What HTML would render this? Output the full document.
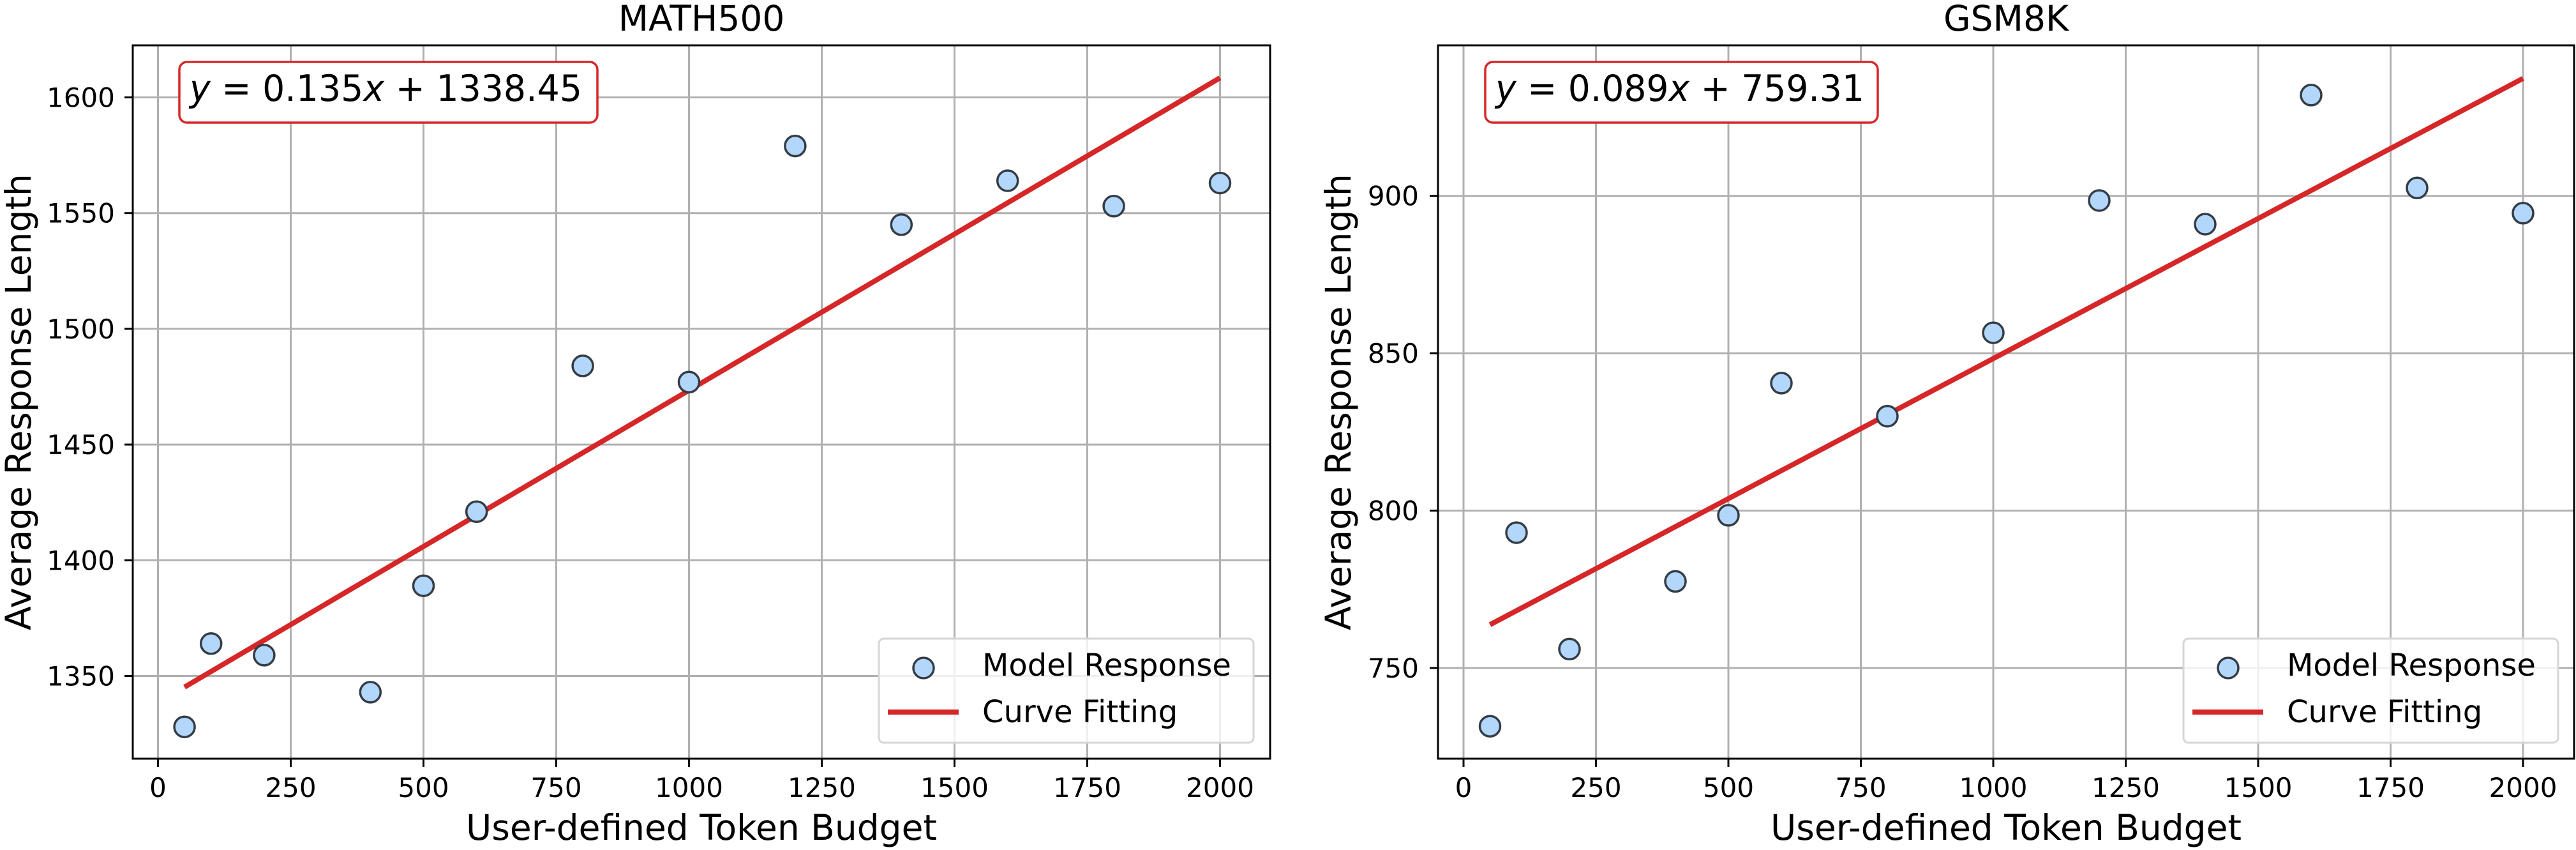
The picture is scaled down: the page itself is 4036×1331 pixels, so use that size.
<!DOCTYPE html>
<html><head><meta charset="utf-8"><style>
html,body{margin:0;padding:0;background:#fff;}
svg{display:block;}
text{font-family:"DejaVu Sans","Liberation Sans",sans-serif;fill:#000;}
</style></head><body>
<svg width="4036" height="1331" viewBox="0 0 4036 1331" xmlns="http://www.w3.org/2000/svg">
<defs>
<g id="xt">
</g>
</defs>

<!-- ============ LEFT PANEL ============ -->
<g>
<!-- grid -->
<g stroke="#b0b0b0" stroke-width="3">
<line x1="247.5" y1="71" x2="247.5" y2="1188"/><line x1="455.5" y1="71" x2="455.5" y2="1188"/>
<line x1="663.5" y1="71" x2="663.5" y2="1188"/><line x1="871.5" y1="71" x2="871.5" y2="1188"/>
<line x1="1079.5" y1="71" x2="1079.5" y2="1188"/><line x1="1287.5" y1="71" x2="1287.5" y2="1188"/>
<line x1="1495.5" y1="71" x2="1495.5" y2="1188"/><line x1="1703.5" y1="71" x2="1703.5" y2="1188"/>
<line x1="1911.5" y1="71" x2="1911.5" y2="1188"/>
<line x1="208" y1="1058.5" x2="1990" y2="1058.5"/><line x1="208" y1="877.3" x2="1990" y2="877.3"/>
<line x1="208" y1="696.1" x2="1990" y2="696.1"/><line x1="208" y1="514.9" x2="1990" y2="514.9"/>
<line x1="208" y1="333.7" x2="1990" y2="333.7"/><line x1="208" y1="152.5" x2="1990" y2="152.5"/>
</g>
<!-- fit line -->
<line x1="289.1" y1="1075.9" x2="1911.5" y2="121.9" stroke="#d62728" stroke-width="8"/>
<!-- points -->
<g fill="#b3d7fb" stroke="#343c45" stroke-width="3.5">
<circle cx="289.1" cy="1138.2" r="16"/><circle cx="330.7" cy="1007.8" r="16"/>
<circle cx="413.9" cy="1025.9" r="16"/><circle cx="580.3" cy="1083.9" r="16"/>
<circle cx="663.5" cy="917.2" r="16"/><circle cx="746.7" cy="801.2" r="16"/>
<circle cx="913.1" cy="572.9" r="16"/><circle cx="1079.5" cy="598.3" r="16"/>
<circle cx="1245.9" cy="228.6" r="16"/><circle cx="1412.3" cy="351.8" r="16"/>
<circle cx="1578.7" cy="283.0" r="16"/><circle cx="1745.1" cy="322.8" r="16"/>
<circle cx="1911.5" cy="286.6" r="16"/>
</g>
<!-- frame -->
<rect x="208" y="71" width="1782" height="1117" fill="none" stroke="#000" stroke-width="3"/>
<!-- ticks -->
<g stroke="#000" stroke-width="3">
<line x1="247.5" y1="1188" x2="247.5" y2="1201"/><line x1="455.5" y1="1188" x2="455.5" y2="1201"/>
<line x1="663.5" y1="1188" x2="663.5" y2="1201"/><line x1="871.5" y1="1188" x2="871.5" y2="1201"/>
<line x1="1079.5" y1="1188" x2="1079.5" y2="1201"/><line x1="1287.5" y1="1188" x2="1287.5" y2="1201"/>
<line x1="1495.5" y1="1188" x2="1495.5" y2="1201"/><line x1="1703.5" y1="1188" x2="1703.5" y2="1201"/>
<line x1="1911.5" y1="1188" x2="1911.5" y2="1201"/>
<line x1="195" y1="1058.5" x2="208" y2="1058.5"/><line x1="195" y1="877.3" x2="208" y2="877.3"/>
<line x1="195" y1="696.1" x2="208" y2="696.1"/><line x1="195" y1="514.9" x2="208" y2="514.9"/>
<line x1="195" y1="333.7" x2="208" y2="333.7"/><line x1="195" y1="152.5" x2="208" y2="152.5"/>
</g>
<g font-size="42" text-anchor="middle">
<text x="247.5" y="1248">0</text><text x="455.5" y="1248">250</text><text x="663.5" y="1248">500</text>
<text x="871.5" y="1248">750</text><text x="1079.5" y="1248">1000</text><text x="1287.5" y="1248">1250</text>
<text x="1495.5" y="1248">1500</text><text x="1703.5" y="1248">1750</text><text x="1911.5" y="1248">2000</text>
</g>
<g font-size="42" text-anchor="end">
<text x="180" y="1073.5">1350</text><text x="180" y="892.3">1400</text><text x="180" y="711.1">1450</text>
<text x="180" y="529.9">1500</text><text x="180" y="348.7">1550</text><text x="180" y="167.5">1600</text>
</g>
<text x="1099" y="48" font-size="55" text-anchor="middle">MATH500</text>
<text x="1099" y="1315" font-size="55" text-anchor="middle">User-defined Token Budget</text>
<text transform="translate(48,629.5) rotate(-90)" font-size="55" text-anchor="middle">Average Response Length</text>
<!-- equation -->
<rect x="281" y="97" width="655" height="95" rx="12" fill="#fff" stroke="#d62728" stroke-width="3.5"/>
<text x="297" y="158" font-size="57" textLength="615" lengthAdjust="spacingAndGlyphs"><tspan font-style="italic">y</tspan> = 0.135<tspan font-style="italic">x</tspan> + 1338.45</text>
<!-- legend -->
<rect x="1377" y="1000" width="587" height="163" rx="8" fill="#fff" fill-opacity="0.8" stroke="#d6d6d6" stroke-width="3"/>
<circle cx="1447" cy="1046" r="16" fill="#b3d7fb" stroke="#343c45" stroke-width="3.5"/>
<line x1="1391" y1="1115" x2="1502" y2="1115" stroke="#d62728" stroke-width="8"/>
<text x="1539" y="1058" font-size="48">Model Response</text>
<text x="1539" y="1131" font-size="48">Curve Fitting</text>
</g>

<!-- ============ RIGHT PANEL ============ -->
<g>
<g stroke="#b0b0b0" stroke-width="3">
<line x1="2293" y1="71" x2="2293" y2="1188"/><line x1="2500.5" y1="71" x2="2500.5" y2="1188"/>
<line x1="2708" y1="71" x2="2708" y2="1188"/><line x1="2915.5" y1="71" x2="2915.5" y2="1188"/>
<line x1="3123" y1="71" x2="3123" y2="1188"/><line x1="3330.5" y1="71" x2="3330.5" y2="1188"/>
<line x1="3538" y1="71" x2="3538" y2="1188"/><line x1="3745.5" y1="71" x2="3745.5" y2="1188"/>
<line x1="3953" y1="71" x2="3953" y2="1188"/>
<line x1="2253" y1="1046" x2="4033" y2="1046"/><line x1="2253" y1="799.6" x2="4033" y2="799.6"/>
<line x1="2253" y1="553.1" x2="4033" y2="553.1"/><line x1="2253" y1="306.7" x2="4033" y2="306.7"/>
</g>
<line x1="2334.5" y1="978.2" x2="3953" y2="122.8" stroke="#d62728" stroke-width="8"/>
<g fill="#b3d7fb" stroke="#343c45" stroke-width="3.5">
<circle cx="2334.5" cy="1137.2" r="16"/><circle cx="2376" cy="834.1" r="16"/>
<circle cx="2459" cy="1016.4" r="16"/><circle cx="2625" cy="910.4" r="16"/>
<circle cx="2708" cy="806.9" r="16"/><circle cx="2791" cy="599.9" r="16"/>
<circle cx="2957" cy="651.7" r="16"/><circle cx="3123" cy="521.1" r="16"/>
<circle cx="3289" cy="314.0" r="16"/><circle cx="3455" cy="351.0" r="16"/>
<circle cx="3621" cy="148.9" r="16"/><circle cx="3787" cy="294.3" r="16"/>
<circle cx="3953" cy="333.8" r="16"/>
</g>
<rect x="2253" y="71" width="1780" height="1117" fill="none" stroke="#000" stroke-width="3"/>
<g stroke="#000" stroke-width="3">
<line x1="2293" y1="1188" x2="2293" y2="1201"/><line x1="2500.5" y1="1188" x2="2500.5" y2="1201"/>
<line x1="2708" y1="1188" x2="2708" y2="1201"/><line x1="2915.5" y1="1188" x2="2915.5" y2="1201"/>
<line x1="3123" y1="1188" x2="3123" y2="1201"/><line x1="3330.5" y1="1188" x2="3330.5" y2="1201"/>
<line x1="3538" y1="1188" x2="3538" y2="1201"/><line x1="3745.5" y1="1188" x2="3745.5" y2="1201"/>
<line x1="3953" y1="1188" x2="3953" y2="1201"/>
<line x1="2240" y1="1046" x2="2253" y2="1046"/><line x1="2240" y1="799.6" x2="2253" y2="799.6"/>
<line x1="2240" y1="553.1" x2="2253" y2="553.1"/><line x1="2240" y1="306.7" x2="2253" y2="306.7"/>
</g>
<g font-size="42" text-anchor="middle">
<text x="2293" y="1248">0</text><text x="2500.5" y="1248">250</text><text x="2708" y="1248">500</text>
<text x="2915.5" y="1248">750</text><text x="3123" y="1248">1000</text><text x="3330.5" y="1248">1250</text>
<text x="3538" y="1248">1500</text><text x="3745.5" y="1248">1750</text><text x="3953" y="1248">2000</text>
</g>
<g font-size="42" text-anchor="end">
<text x="2223" y="1061">750</text><text x="2223" y="814.6">800</text>
<text x="2223" y="568.1">850</text><text x="2223" y="321.7">900</text>
</g>
<text x="3143" y="48" font-size="55" text-anchor="middle">GSM8K</text>
<text x="3143" y="1315" font-size="55" text-anchor="middle">User-defined Token Budget</text>
<text transform="translate(2116,629.5) rotate(-90)" font-size="55" text-anchor="middle">Average Response Length</text>
<rect x="2327" y="97" width="615" height="95" rx="12" fill="#fff" stroke="#d62728" stroke-width="3.5"/>
<text x="2343" y="158" font-size="57" textLength="578" lengthAdjust="spacingAndGlyphs"><tspan font-style="italic">y</tspan> = 0.089<tspan font-style="italic">x</tspan> + 759.31</text>
<rect x="3421" y="1000" width="587" height="163" rx="8" fill="#fff" fill-opacity="0.8" stroke="#d6d6d6" stroke-width="3"/>
<circle cx="3491" cy="1046" r="16" fill="#b3d7fb" stroke="#343c45" stroke-width="3.5"/>
<line x1="3435" y1="1115" x2="3546" y2="1115" stroke="#d62728" stroke-width="8"/>
<text x="3583" y="1058" font-size="48">Model Response</text>
<text x="3583" y="1131" font-size="48">Curve Fitting</text>
</g>
</svg>
</body></html>
